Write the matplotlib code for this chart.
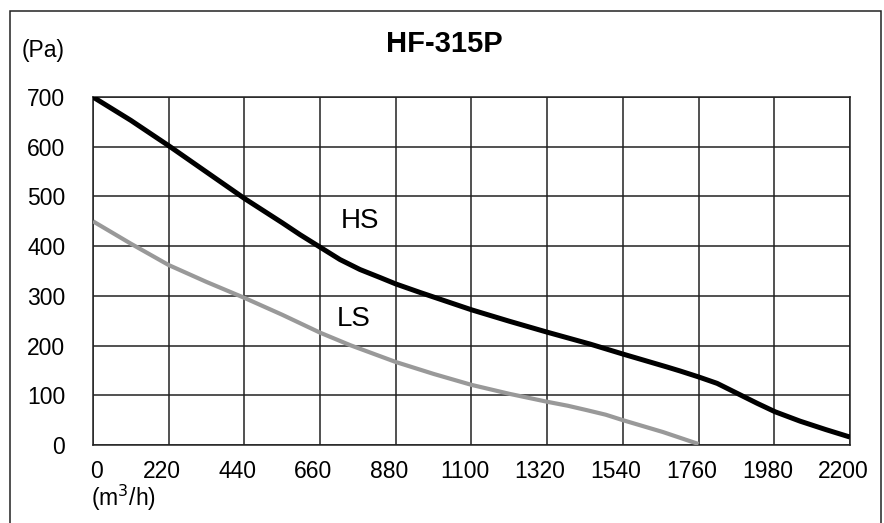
import matplotlib
matplotlib.use("Agg")
import matplotlib.pyplot as plt
import matplotlib.transforms as mtransforms
from matplotlib.patches import Rectangle

plt.rcParams['font.family'] = ['Liberation Sans', 'DejaVu Sans']

# Values
x_ticks = [0, 220, 440, 660, 880, 1100, 1320, 1540, 1760, 1980, 2200]
y_ticks = [0, 100, 200, 300, 400, 500, 600, 700]

hs_flow = [0, 110, 220, 330, 440, 550, 602, 660, 718, 776, 834, 880, 950,
           1100, 1210, 1320, 1445, 1540, 1668, 1706, 1760, 1814, 1872, 1930,
           1982, 2055, 2130, 2200]
hs_pressure = [700, 653, 602, 549, 496, 447, 423, 398, 373, 353, 337, 324, 307,
               272, 249, 227, 203, 183, 157, 149, 137, 124, 104, 84,
               67, 48, 31, 16]

ls_flow = [0, 110, 220, 330, 440, 550, 660, 747, 880, 990, 1100, 1210, 1320,
           1380, 1436, 1490, 1540, 1657, 1760]
ls_pressure = [450, 405, 362, 328, 296, 262, 226, 201, 167, 143, 121, 103, 87,
               79, 70, 61, 50, 26, 2]

fig = plt.figure(figsize=(8.84, 5.23), dpi=100)
ax = fig.add_axes([0.1052, 0.1491, 0.8563, 0.6654])

ax.plot(hs_flow, hs_pressure, color='black', lw=3.6, solid_joinstyle='round',
        solid_capstyle='butt', zorder=3)
ax.plot(ls_flow, ls_pressure, color='#999999', lw=3.0, solid_joinstyle='round',
        solid_capstyle='butt', zorder=3)

ax.set_xlim(0, 2200)
ax.set_ylim(0, 700)
ax.set_xticks(x_ticks)
ax.set_yticks(y_ticks)
ax.grid(True, color='#222222', lw=1.1)
ax.tick_params(length=0, labelsize=16.5)
ax.tick_params(axis='y', pad=20)
ax.tick_params(axis='x', pad=11)
for s in ax.spines.values():
    s.set_color('#222222')
    s.set_linewidth(1.1)

# x labels in the original sit a bit left of their grid lines (except 0)
for i, lab in enumerate(ax.get_xticklabels()):
    dx = 4 if i == 0 else -7
    lab.set_transform(lab.get_transform() +
                      mtransforms.ScaledTranslation(dx / 100, 0, fig.dpi_scale_trans))

ax.text(776, 451, 'HS', fontsize=20, ha='center', va='center', zorder=4)
ax.text(759, 254, 'LS', fontsize=20, ha='center', va='center', zorder=4)

fig.text(444 / 884, 1 - 44 / 523, 'HF-315P', fontsize=21, fontweight='bold',
         ha='center', va='center')
fig.text(22 / 884, 1 - 51 / 523, '(Pa)', fontsize=16.5, ha='left', va='center')
fig.text(91 / 884, 1 - 498 / 523, '(m$^3$/h)', fontsize=16.5, ha='left', va='center')

# outer frame, bottom edge runs off the image
fig.patches.append(Rectangle((10 / 884, -0.1), 871 / 884, 1.1 - 11 / 523,
                             transform=fig.transFigure, fill=False,
                             edgecolor='#222222', lw=1.1, clip_on=False))

plt.savefig("out.png", dpi=100)
